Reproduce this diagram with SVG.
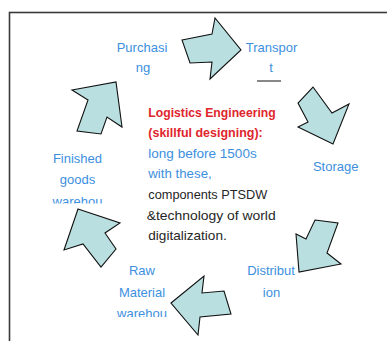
<svg xmlns="http://www.w3.org/2000/svg" width="387" height="341" viewBox="0 0 387 341">
<defs>
<style>
.arrow{fill:#b9dfe1;stroke:#111;stroke-width:1.1;stroke-linejoin:miter}
.lbl{font-family:"Liberation Sans",Arial,sans-serif;font-size:13px;fill:#3d8fe0;text-anchor:middle}
.c{font-family:"Liberation Sans",Arial,sans-serif;font-size:13px}
.red{fill:#e0252d;font-weight:bold;font-size:12.2px}
.blue{fill:#3d8fe0}
.dark{fill:#262626}
</style>
<clipPath id="clipFG"><rect x="40" y="140" width="80" height="63.5"/></clipPath>
<clipPath id="clipRM"><rect x="105" y="255" width="80" height="62"/></clipPath>
</defs>
<rect x="9.5" y="12.5" width="420" height="400" fill="#ffffff" stroke="#3a3a3a" stroke-width="1.6"/>
<g id="connectors">
<polygon class="arrow" points="182,40 212,34 215,18 241,50 210,79 212,62 190,63"/>
<polygon class="arrow" points="313,87 332,113 349,104 333,144 298,127 308,122 298,103"/>
<polygon class="arrow" points="315,220 338,223 327,253 341,264 299,272 296,234 306,239"/>
<polygon class="arrow" points="171,303 204,276 202,293 224,291 231,314 200,317 198,335"/>
<polygon class="arrow" points="78,209 120,223 105,233 116,249 101,267 83,244 64,250"/>
<polygon class="arrow" points="72,90 116,82 122,127 107,117 101,134 77,131 88,100"/>
</g>
<g id="purchasing">
<text class="lbl" x="142" y="52">Purchasi</text>
<text class="lbl" x="143" y="72">ng</text>
</g>
<g id="transport">
<text class="lbl" x="271.5" y="52">Transpor</text>
<text class="lbl" x="271" y="72">t</text>
<line x1="257" y1="81" x2="281" y2="81" stroke="#111" stroke-width="1"/>
</g>
<g id="storage">
<text class="lbl" x="335.7" y="171">Storage</text>
</g>
<g id="distribution">
<text class="lbl" x="271" y="275">Distribut</text>
<text class="lbl" x="271.5" y="296.5">ion</text>
</g>
<g id="raw-material" clip-path="url(#clipRM)">
<text class="lbl" x="142" y="275">Raw</text>
<text class="lbl" x="142" y="296.5">Material</text>
<text class="lbl" x="142" y="318">warehou</text>
</g>
<g id="finished-goods" clip-path="url(#clipFG)">
<text class="lbl" x="77.5" y="163.3">Finished</text>
<text class="lbl" x="77.5" y="184.3">goods</text>
<text class="lbl" x="77.5" y="205.5">warehou</text>
</g>
<g id="center">
<text class="c red" x="148.3" y="116.5" textLength="127.4" lengthAdjust="spacingAndGlyphs">Logistics Engineering</text>
<text class="c red" x="148.3" y="137.1" textLength="114.4" lengthAdjust="spacingAndGlyphs">(skillful designing):</text>
<text class="c blue" x="148.3" y="157.7" textLength="108.4" lengthAdjust="spacingAndGlyphs">long before 1500s</text>
<text class="c blue" x="148.3" y="178.3" textLength="63.4" lengthAdjust="spacingAndGlyphs">with these,</text>
<text class="c dark" x="148.3" y="198.9" textLength="119" lengthAdjust="spacingAndGlyphs">components PTSDW</text>
<text class="c dark" x="146.7" y="219.5" textLength="129" lengthAdjust="spacingAndGlyphs">&amp;technology of world</text>
<text class="c dark" x="148.3" y="240.1" textLength="78.4" lengthAdjust="spacingAndGlyphs">digitalization.</text>
</g>
</svg>
